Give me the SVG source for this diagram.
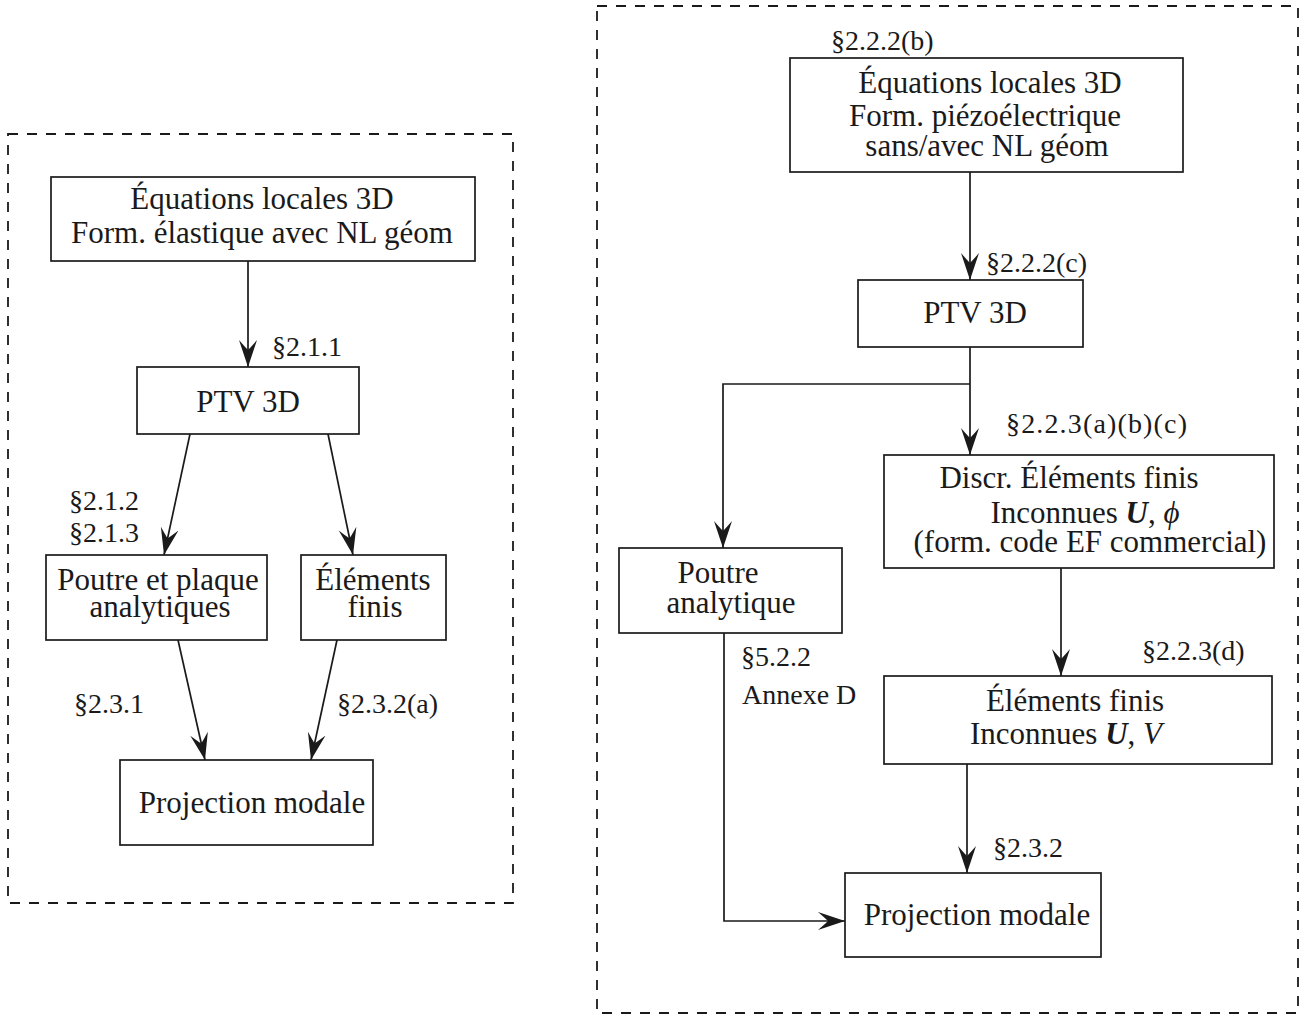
<svg xmlns="http://www.w3.org/2000/svg" width="1304" height="1017" viewBox="0 0 1304 1017">
<style>
.frame{fill:none;stroke:#1a1a1a;stroke-width:1.8;stroke-dasharray:10 9}
.box{fill:#fff;stroke:#1a1a1a;stroke-width:1.7}
.t{font-family:"Liberation Serif","Times New Roman",serif;font-size:31px;fill:#1a1a1a;text-anchor:middle}
.l{font-family:"Liberation Serif","Times New Roman",serif;font-size:28px;fill:#1a1a1a}
.c{fill:none;stroke:#1a1a1a;stroke-width:1.7}
</style>
<defs>
<marker id="ah" markerUnits="userSpaceOnUse" viewBox="0 -10 28 20" refX="27" refY="0" markerWidth="28" markerHeight="20" orient="auto">
<path d="M27,0 L0,-9 Q7,-3 10,0 Q7,3 0,9 Z" fill="#1a1a1a"/>
</marker>
</defs>
<g id="frames">
<rect class="frame" x="8" y="134" width="505" height="769"/>
<rect class="frame" x="597" y="6" width="701" height="1007"/>
</g>
<g id="connectors">
<line class="c" x1="248" y1="261" x2="248" y2="367" marker-end="url(#ah)"/>
<line class="c" x1="190" y1="434" x2="164" y2="555" marker-end="url(#ah)"/>
<line class="c" x1="328" y1="434" x2="353" y2="555" marker-end="url(#ah)"/>
<line class="c" x1="178" y1="640" x2="205" y2="760" marker-end="url(#ah)"/>
<line class="c" x1="337" y1="640" x2="311" y2="760" marker-end="url(#ah)"/>
<line class="c" x1="970" y1="172" x2="970" y2="280" marker-end="url(#ah)"/>
<line class="c" x1="970" y1="347" x2="970" y2="455" marker-end="url(#ah)"/>
<path class="c" d="M970,384 H723 V548" marker-end="url(#ah)"/>
<path class="c" d="M724,633 V921 H845" marker-end="url(#ah)"/>
<line class="c" x1="1061" y1="568" x2="1061" y2="676" marker-end="url(#ah)"/>
<line class="c" x1="967" y1="764" x2="967" y2="873" marker-end="url(#ah)"/>
</g>
<g id="labels">
<text class="l" x="272" y="356">§2.1.1</text>
<text class="l" x="69" y="510">§2.1.2</text>
<text class="l" x="69" y="542">§2.1.3</text>
<text class="l" x="74" y="713">§2.3.1</text>
<text class="l" x="337" y="713">§2.3.2(a)</text>
<text class="l" x="831" y="50">§2.2.2(b)</text>
<text class="l" x="986" y="272">§2.2.2(c)</text>
<text class="l" x="1006" y="433" textLength="181" lengthAdjust="spacing">§2.2.3(a)(b)(c)</text>
<text class="l" x="741" y="666">§5.2.2</text>
<text class="l" x="742" y="704">Annexe D</text>
<text class="l" x="1142" y="660">§2.2.3(d)</text>
<text class="l" x="993" y="857">§2.3.2</text>
</g>
<g id="n-eq-left">
<rect class="box" x="51" y="177" width="424" height="84"/>
<text class="t" x="262" y="209">Équations locales 3D</text>
<text class="t" x="262" y="243">Form. élastique avec NL géom</text>
</g>
<g id="n-ptv-left">
<rect class="box" x="137" y="367" width="222" height="67"/>
<text class="t" x="248" y="412">PTV 3D</text>
</g>
<g id="n-poutre-plaque">
<rect class="box" x="46" y="555" width="221" height="85"/>
<text class="t" x="158" y="590">Poutre et plaque</text>
<text class="t" x="160" y="617">analytiques</text>
</g>
<g id="n-ef-left">
<rect class="box" x="301" y="555" width="145" height="85"/>
<text class="t" x="373" y="590">Éléments</text>
<text class="t" x="375" y="617">finis</text>
</g>
<g id="n-proj-left">
<rect class="box" x="120" y="760" width="253" height="85"/>
<text class="t" x="252" y="813">Projection modale</text>
</g>
<g id="n-eq-right">
<rect class="box" x="790" y="58" width="393" height="114"/>
<text class="t" x="990" y="93">Équations locales 3D</text>
<text class="t" x="985" y="126">Form. piézoélectrique</text>
<text class="t" x="987" y="156">sans/avec NL géom</text>
</g>
<g id="n-ptv-right">
<rect class="box" x="858" y="280" width="225" height="67"/>
<text class="t" x="975" y="323">PTV 3D</text>
</g>
<g id="n-discr">
<rect class="box" x="884" y="455" width="390" height="113"/>
<text class="t" x="1069" y="488">Discr. Éléments finis</text>
<text class="t" x="1085" y="523">Inconnues <tspan font-weight="bold" font-style="italic">U</tspan>, <tspan font-style="italic">ϕ</tspan></text>
<text class="t" x="1090" y="552">(form. code EF commercial)</text>
</g>
<g id="n-poutre-analytique">
<rect class="box" x="619" y="548" width="223" height="85"/>
<text class="t" x="718" y="583">Poutre</text>
<text class="t" x="731" y="613">analytique</text>
</g>
<g id="n-ef-right">
<rect class="box" x="884" y="676" width="388" height="88"/>
<text class="t" x="1075" y="711">Éléments finis</text>
<text class="t" x="1066" y="744">Inconnues <tspan font-weight="bold" font-style="italic">U</tspan>, <tspan font-style="italic">V</tspan></text>
</g>
<g id="n-proj-right">
<rect class="box" x="845" y="873" width="256" height="84"/>
<text class="t" x="977" y="925">Projection modale</text>
</g>
</svg>
